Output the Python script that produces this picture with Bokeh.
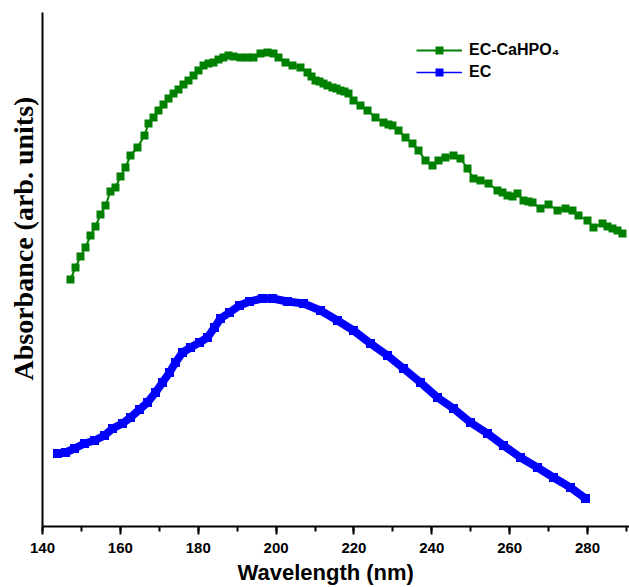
from bokeh.plotting import figure
from bokeh.models import (Title, SingleIntervalTicker, FixedTicker, Legend,
                          LegendItem, Range1d)
from bokeh.embed import file_html
from bokeh.resources import INLINE

# ---------------- data ----------------
x_ticks_step = 20
series_names = ["EC-CaHPO\u2084", "EC"]

ec_ca_wavelength = [
    147.19, 148.48, 149.76, 151.05, 152.33, 153.61, 154.90, 156.18, 157.47, 158.75,
    160.04, 161.32, 162.60, 164.40, 166.20, 167.23, 168.51, 169.80, 171.08, 172.37,
    173.65, 174.93, 176.22, 177.50, 178.79, 180.07, 181.36, 182.64, 183.93, 185.21,
    186.49, 187.78, 189.06, 190.86, 192.66, 194.20, 196.00, 197.80, 199.34, 200.62,
    202.42, 204.22, 206.27, 208.07, 209.10, 210.13, 211.15, 212.18, 213.21, 214.49,
    215.52, 216.55, 217.57, 218.60, 219.89, 221.68, 223.48, 225.54, 227.59, 228.88,
    229.90, 231.45, 233.24, 235.04, 236.58, 238.38, 240.18, 241.72, 243.52, 245.57,
    247.37, 249.17, 250.71, 252.51, 254.56, 256.87, 258.16, 259.44, 260.73, 262.01,
    263.55, 264.84, 265.87, 267.92, 269.98, 272.29, 274.34, 276.14, 277.68, 279.99,
    281.53, 283.85, 285.13, 286.42, 287.70, 288.98,
]
ec_ca_absorbance = [
    2.47, 2.59, 2.70, 2.79, 2.91, 3.00, 3.12, 3.21, 3.35, 3.39,
    3.50, 3.59, 3.71, 3.79, 3.91, 4.03, 4.09, 4.16, 4.22, 4.28,
    4.33, 4.37, 4.42, 4.46, 4.51, 4.56, 4.61, 4.63, 4.64, 4.67,
    4.69, 4.71, 4.70, 4.69, 4.69, 4.69, 4.73, 4.74, 4.73, 4.69,
    4.64, 4.61, 4.59, 4.54, 4.50, 4.46, 4.45, 4.43, 4.41, 4.39,
    4.38, 4.36, 4.35, 4.33, 4.26, 4.21, 4.16, 4.09, 4.04, 4.02,
    4.01, 3.96, 3.89, 3.83, 3.76, 3.66, 3.61, 3.66, 3.69, 3.71,
    3.68, 3.58, 3.48, 3.46, 3.43, 3.36, 3.34, 3.31, 3.30, 3.33,
    3.26, 3.25, 3.24, 3.18, 3.22, 3.16, 3.18, 3.16, 3.11, 3.06,
    2.99, 3.03, 3.00, 2.98, 2.96, 2.93,
]

ec_wavelength = [
    143.85, 145.91, 148.22, 150.79, 153.36, 155.93, 157.98, 160.55, 162.60, 164.92,
    166.97, 169.03, 170.82, 172.62, 174.16, 175.96, 178.02, 180.33, 182.38, 184.18,
    185.72, 188.03, 190.60, 193.17, 196.51, 199.08, 202.93, 207.04, 211.41, 215.78,
    219.89, 224.25, 228.62, 232.73, 237.10, 241.46, 245.57, 249.94, 254.31, 258.42,
    262.78, 267.15, 271.26, 275.63, 279.48,
]
ec_absorbance = [
    0.73, 0.74, 0.78, 0.83, 0.86, 0.91, 0.98, 1.03, 1.09, 1.17,
    1.24, 1.34, 1.44, 1.54, 1.64, 1.74, 1.79, 1.84, 1.89, 1.99,
    2.08, 2.14, 2.21, 2.25, 2.28, 2.28, 2.25, 2.23, 2.16, 2.06,
    1.96, 1.83, 1.71, 1.58, 1.44, 1.29, 1.18, 1.04, 0.93, 0.81,
    0.69, 0.59, 0.49, 0.39, 0.28,
]

GREEN = "#008000"
BLUE = "#0000FF"

# ---------------- figure ----------------
p = figure(width=629, height=587, output_backend="svg", toolbar_location=None,
           title=None, x_range=Range1d(140, 290.78), y_range=Range1d(0, 5.14),
           min_border_left=42, min_border_right=0, min_border_top=12,
           min_border_bottom=61, background_fill_color="white",
           border_fill_color="white")
p.xgrid.visible = False
p.ygrid.visible = False
p.outline_line_color = None

xa = p.xaxis[0]
xa.ticker = SingleIntervalTicker(interval=x_ticks_step, num_minor_ticks=2)
xa.axis_line_width = 2
xa.axis_line_color = "black"
xa.major_tick_line_width = 2
xa.minor_tick_line_width = 2
xa.major_tick_line_color = "black"
xa.minor_tick_line_color = "black"
xa.major_tick_out = 8
xa.major_tick_in = 0
xa.minor_tick_out = 5
xa.minor_tick_in = 0
xa.major_label_text_font = "Liberation Sans"
xa.major_label_text_font_style = "bold"
xa.major_label_text_font_size = "15px"
xa.major_label_text_color = "black"
xa.major_label_standoff = 8

ya = p.yaxis[0]
ya.ticker = FixedTicker(ticks=[])
ya.axis_line_width = 2
ya.axis_line_color = "black"
ya.major_tick_out = 0
ya.major_tick_in = 0
ya.minor_tick_out = 0
ya.minor_tick_in = 0
ya.major_label_standoff = 0
ya.axis_label_standoff = 0
ya.major_label_text_font_size = "0px"

# ---------------- series ----------------
g_line = p.line(ec_ca_wavelength, ec_ca_absorbance, line_color=GREEN, line_width=2)
g_pts = p.scatter(ec_ca_wavelength, ec_ca_absorbance, marker="square", size=8,
                  fill_color=GREEN, line_color=None)

b_band = p.line(ec_wavelength, ec_absorbance, line_color=BLUE, line_width=8)
b_line = p.line(ec_wavelength, ec_absorbance, line_color=BLUE, line_width=1.5)
b_pts = p.scatter(ec_wavelength, ec_absorbance, marker="square", size=9,
                  fill_color=BLUE, line_color=None)

legend = Legend(items=[LegendItem(label=series_names[0], renderers=[g_line, g_pts]),
                       LegendItem(label=series_names[1], renderers=[b_line, b_pts])],
                location=(374, 444), glyph_width=46, glyph_height=20,
                label_height=20, label_standoff=7, spacing=2, padding=0, margin=0,
                border_line_color=None, background_fill_alpha=0,
                label_text_font="Liberation Sans", label_text_font_style="bold",
                label_text_font_size="16px", label_text_color="black")
p.add_layout(legend)

ytitle = Title(text="Absorbance (arb. units)", align="left", offset=146,
               standoff=8, text_font="Liberation Serif", text_font_style="bold",
               text_font_size="28px", text_color="black")
p.add_layout(ytitle, "left")

xtitle = Title(text="Wavelength (nm)", align="left", offset=195,
               standoff=5, text_font="Liberation Sans", text_font_style="bold",
               text_font_size="22px", text_color="black")
p.add_layout(xtitle, "below")

open("out.html", "w").write(file_html(p, INLINE))
